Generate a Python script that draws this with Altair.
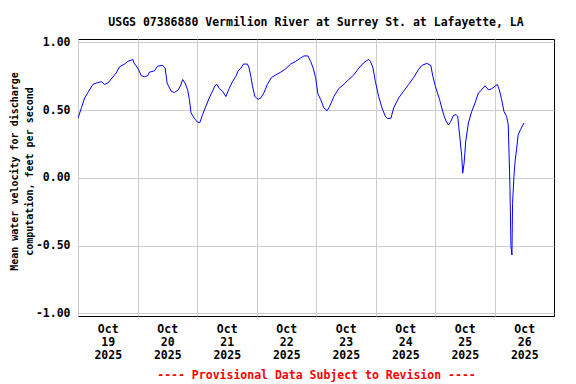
import altair as alt
import pandas as pd

# hours after 2025-10-19 00:00 (local)
hours = [0.0, 1.37, 2.69, 4.02, 6.03, 7.40, 9.41, 10.73, 12.06, 13.43, 15.44, 16.76, 18.77, 20.10,
         22.11, 22.51, 24.12, 25.49, 26.81, 28.14, 28.82, 30.83, 32.16, 34.17, 35.14, 35.94,
         37.55, 38.87, 40.48, 41.57, 42.21, 43.18, 44.22, 44.90, 45.59, 46.91, 48.24, 49.21,
         50.25, 51.62, 52.95, 54.27, 55.24, 56.04, 56.97, 58.29, 59.66, 60.98, 62.31, 63.68,
         64.60, 65.69, 66.73, 68.34, 69.02, 69.71, 70.35, 71.32, 72.64, 73.73, 75.06, 76.38,
         77.99, 79.76, 81.77, 83.78, 85.79, 87.80, 89.81, 91.14, 92.75, 93.83, 94.87, 95.84,
         96.76, 97.85, 99.18, 100.50, 101.59, 103.20, 105.21, 107.22, 109.23, 111.24, 113.25,
         115.26, 117.27, 117.95, 119.00, 119.96, 121.29, 122.61, 123.98, 124.90, 126.23,
         127.32, 129.33, 131.34, 133.35, 135.36, 137.37, 138.70, 140.71, 142.31, 143.12,
         144.08, 145.81, 146.74, 147.70, 148.51, 149.43, 150.36, 151.44, 152.53, 153.17,
         153.57, 154.14, 154.78, 155.18, 155.75, 156.39, 157.47, 158.80, 160.17, 161.49,
         162.82, 164.19, 165.51, 166.84, 168.20, 169.13, 169.93, 170.86, 171.82, 172.87,
         173.55, 174.23, 174.63, 175.04, 175.28, 175.84, 176.36, 176.89, 177.57, 178.49,
         179.86]
velocity = [0.44, 0.517, 0.59, 0.63, 0.69, 0.70, 0.71, 0.69, 0.70, 0.73, 0.775, 0.82, 0.84, 0.86,
            0.874, 0.85, 0.81, 0.755, 0.746, 0.755, 0.78, 0.79, 0.825, 0.83, 0.81, 0.70,
            0.64, 0.63, 0.65, 0.69, 0.726, 0.70, 0.65, 0.58, 0.48, 0.44, 0.41, 0.41,
            0.467, 0.53, 0.59, 0.64, 0.68, 0.69, 0.66, 0.64, 0.60, 0.66, 0.71, 0.75,
            0.79, 0.81, 0.84, 0.84, 0.81, 0.75, 0.68, 0.60, 0.58, 0.59, 0.63, 0.69,
            0.74, 0.76, 0.78, 0.805, 0.84, 0.86, 0.885, 0.90, 0.90, 0.86, 0.81, 0.74,
            0.62, 0.58, 0.516, 0.496, 0.53, 0.60, 0.66, 0.69, 0.726, 0.76, 0.81,
            0.85, 0.874, 0.86, 0.81, 0.71, 0.60, 0.516, 0.454, 0.437, 0.44,
            0.516, 0.59, 0.64, 0.69, 0.74, 0.80, 0.83, 0.845, 0.83, 0.75,
            0.68, 0.58, 0.516, 0.454, 0.417, 0.39, 0.417, 0.46, 0.467, 0.454,
            0.38, 0.28, 0.158, 0.035, 0.11, 0.27, 0.405, 0.49, 0.553, 0.627,
            0.65, 0.68, 0.65, 0.657, 0.676, 0.69, 0.65, 0.58, 0.49, 0.454,
            0.39, -0.064, -0.50, -0.57, -0.19, 0.01, 0.133, 0.207, 0.32, 0.356,
            0.405]

y_ticks = [-1.0, -0.5, 0.0, 0.5, 1.0]
day_ticks = [19, 20, 21, 22, 23, 24, 25, 26]

df = pd.DataFrame({
    "time": pd.Timestamp("2025-10-19") + pd.to_timedelta(hours, unit="h"),
    "v": velocity,
})

FONT = "DejaVu Sans Mono"

chart = alt.Chart(df).mark_line(color="#0000ff", strokeWidth=1, clip=True).encode(
    x=alt.X(
        "time:T",
        scale=alt.Scale(domain=[alt.DateTime(year=2025, month=10, date=19),
                                alt.DateTime(year=2025, month=10, date=27)]),
        axis=alt.Axis(
            values=[alt.DateTime(year=2025, month=10, date=d) for d in day_ticks],
            labelExpr="[timeFormat(datum.value, '%b'), timeFormat(datum.value, '%d'), timeFormat(datum.value, '%Y')]",
            labelOffset=29.75,
            labelAlign="center",
            labelBaseline="top",
            labelLineHeight=13,
            labelPadding=7,
            labelFont=FONT, labelFontWeight="bold", labelFontSize=11.5, labelColor="black",
            labelOverlap=False, labelBound=False, labelFlush=False,
            ticks=False, domain=False,
            grid=True, gridColor="#cccccc", gridWidth=1,
            title="---- Provisional Data Subject to Revision ----",
            titleColor="#ff0000", titleFont=FONT, titleFontWeight="bold", titleFontSize=11.5,
            titleBaseline="middle", titleY=59.5,
        ),
    ),
    y=alt.Y(
        "v:Q",
        scale=alt.Scale(domain=[-1.02, 1.025], nice=False, zero=False),
        axis=alt.Axis(
            values=y_ticks,
            labelExpr="datum.value < 0 ? '-' + format(-datum.value, '.2f') : format(datum.value, '.2f')",
            labelFont=FONT, labelFontWeight="bold", labelFontSize=11.5, labelColor="black",
            labelPadding=8, labelBaseline="middle",
            ticks=False, domain=False,
            grid=True, gridColor="#cccccc", gridWidth=1,
            title=["Mean water velocity for discharge", "computation, feet per second"],
            titleFont=FONT, titleFontWeight="bold", titleFontSize=10, titleColor="black",
            titleAngle=270, titleAlign="center", titleBaseline="middle",
            titleLineHeight=15.5, titleX=-64, titleY=132,
        ),
    ),
).properties(
    width=476,
    height=277,
    title=alt.TitleParams(
        "USGS 07386880 Vermilion River at Surrey St. at Lafayette, LA",
        font=FONT, fontWeight="bold", fontSize=11.5, color="black",
        anchor="middle", baseline="alphabetic", offset=15, frame="group", dy=16,
    ),
    padding={"left": 70, "top": 31, "right": 14, "bottom": 75},
    autosize=alt.AutoSizeParams(type="none"),
).configure_view(stroke="black", strokeWidth=1)

chart.save("out.html", embed_options={"renderer": "svg", "actions": False})
